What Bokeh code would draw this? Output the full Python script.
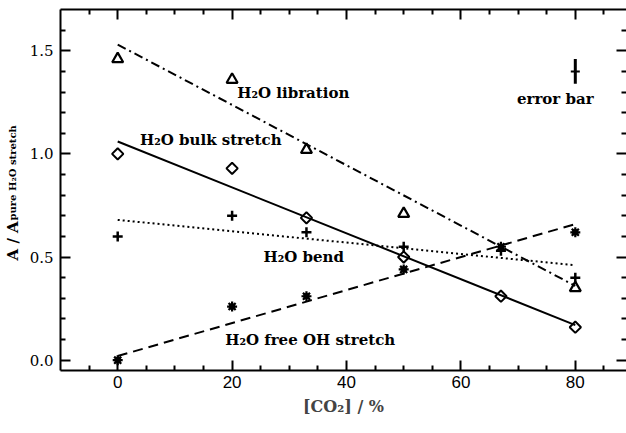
import numpy as np
from bokeh.plotting import figure
from bokeh.layouts import row
from bokeh.models import LinearAxis, FixedTicker, Label, Range1d, PrintfTickFormatter
from bokeh.core.properties import value
from bokeh.embed import file_html
from bokeh.resources import INLINE

# ---- data ----
co2 = [0, 20, 33, 50, 67, 80]
libration_x = [0, 20, 33, 50, 80]
libration = [1.46, 1.36, 1.02, 0.71, 0.35]
bulk = [1.00, 0.93, 0.69, 0.50, 0.31, 0.16]
bend = [0.60, 0.70, 0.62, 0.55, 0.53, 0.40]
free_oh = [0.00, 0.26, 0.31, 0.44, 0.55, 0.62]

fit_x = [0, 80]
libration_fit = [1.53, 0.36]
bulk_fit = [1.06, 0.17]
bend_fit = [0.68, 0.46]
free_oh_fit = [0.02, 0.66]

err_x = [80]
err_y = [1.40]
err_half = [0.06]

x_ticks = [0, 20, 40, 60, 80]
y_ticks = [0.0, 0.5, 1.0, 1.5]

y_title_main = "A / A"
y_title_sub = "pure H\u2082O stretch"

SERIF = "DejaVu Serif"
SANS = "Liberation Sans"

LEFT_W = 26

# ---- narrow panel holding the y-axis title (with subscript) ----
t = figure(width=LEFT_W, height=433, output_backend="svg", toolbar_location=None,
           x_range=Range1d(0, LEFT_W), y_range=Range1d(0, 433),
           min_border=0, x_axis_location=None, y_axis_location=None)
t.outline_line_color = None
t.grid.visible = False
t.background_fill_color = "white"
t.border_fill_color = "white"
t.text(x=[12], y=[132], text=[y_title_main], angle=np.pi / 2,
       text_font=value(SERIF), text_font_style="bold", text_font_size=value("15px"),
       text_baseline="alphabetic", text_align="left", text_color="black")
t.text(x=[11.5], y=[180], text=[y_title_sub], angle=np.pi / 2,
       text_font=value(SERIF), text_font_style="bold", text_font_size=value("10px"),
       text_baseline="alphabetic", text_align="left", text_color="black")

# ---- main plot ----
p = figure(width=626 - LEFT_W, height=433, output_backend="svg", toolbar_location=None,
           x_range=Range1d(-10, 88.95), y_range=Range1d(-0.05, 1.70),
           min_border_left=60 - LEFT_W, min_border_right=0, min_border_top=9,
           min_border_bottom=63, x_axis_location=None, y_axis_location=None)
p.background_fill_color = "white"
p.border_fill_color = "white"
p.outline_line_color = None
p.grid.visible = False

x_minor = [v for v in range(-5, 90, 5) if v % 20 != 0]
y_minor = [round(v * 0.1, 1) for v in range(0, 17) if v % 5 != 0]

def mk_axis(kind, show_labels, line=True):
    ax = LinearAxis()
    ticks = x_ticks if kind == "x" else y_ticks
    ax.ticker = FixedTicker(ticks=ticks, minor_ticks=x_minor if kind == "x" else y_minor)
    ax.axis_line_width = 2
    ax.axis_line_color = "black" if line else None
    ax.major_tick_in = 10
    ax.major_tick_out = 0
    ax.minor_tick_in = 5
    ax.minor_tick_out = 0
    ax.major_tick_line_width = 2
    ax.minor_tick_line_width = 2
    ax.major_tick_line_color = "black"
    ax.minor_tick_line_color = "black"
    if not show_labels:
        ax.major_label_overrides = {tk: "" for tk in ticks}
        ax.major_label_standoff = 0
    return ax

xb = mk_axis("x", True)
xb.major_label_text_font = SANS
xb.major_label_text_font_size = "17px"
xb.major_label_text_color = "black"
xb.major_label_standoff = 5
xb.axis_label = "[CO\u2082] / %"
xb.axis_label_text_font = SERIF
xb.axis_label_text_font_style = "bold"
xb.axis_label_text_font_size = "16px"
xb.axis_label_standoff = 6
p.add_layout(xb, "below")

yl = mk_axis("y", True)
yl.major_label_text_font = SERIF
yl.major_label_text_font_size = "15px"
yl.major_label_text_color = "black"
yl.major_label_standoff = 7
yl.formatter = PrintfTickFormatter(format="%.1f")
p.add_layout(yl, "left")

xt = mk_axis("x", False)
p.add_layout(xt, "above")
yr = mk_axis("y", False, line=False)
p.add_layout(yr, "right")

# ---- fit lines ----
p.line(fit_x, libration_fit, line_color="black", line_width=2, line_dash="9 4 2 4")
p.line(fit_x, bulk_fit, line_color="black", line_width=2)
p.line(fit_x, bend_fit, line_color="black", line_width=2, line_dash="2 3")
p.line(fit_x, free_oh_fit, line_color="black", line_width=2, line_dash="10 6")

# ---- data points ----
p.scatter(libration_x, libration, marker="triangle", size=11, fill_color=None,
          line_color="black", line_width=2.2)
p.scatter(co2, bulk, marker="square", angle=np.pi / 4, size=8, fill_color=None,
          line_color="black", line_width=2)
p.scatter(co2, bend, marker="cross", size=10, line_color="black", line_width=2.5)
p.scatter(co2, free_oh, marker="asterisk", size=10, line_color="black", line_width=2.2)
p.scatter(co2, free_oh, marker="square", size=5, fill_color="black", line_color="black",
          line_width=1)

# ---- error bar ----
p.segment(x0=err_x, y0=[y - h for y, h in zip(err_y, err_half)],
          x1=err_x, y1=[y + h for y, h in zip(err_y, err_half)],
          line_color="black", line_width=3)
p.scatter(err_x, err_y, marker="dash", size=9, line_color="black", line_width=2)

# ---- annotations ----
def note(x, y, txt):
    p.add_layout(Label(x=x, y=y, text=txt, text_font=SERIF, text_font_style="bold",
                       text_font_size="15px", text_color="black",
                       text_baseline="alphabetic", text_align="left"))

note(20.9, 1.295, "H\u2082O libration")
note(3.9, 1.068, "H\u2082O bulk stretch")
note(25.5, 0.502, "H\u2082O bend")
note(18.8, 0.10, "H\u2082O free OH stretch")
note(69.8, 1.265, "error bar")

layout = row(t, p, spacing=0)
open("out.html", "w").write(file_html(layout, INLINE))
